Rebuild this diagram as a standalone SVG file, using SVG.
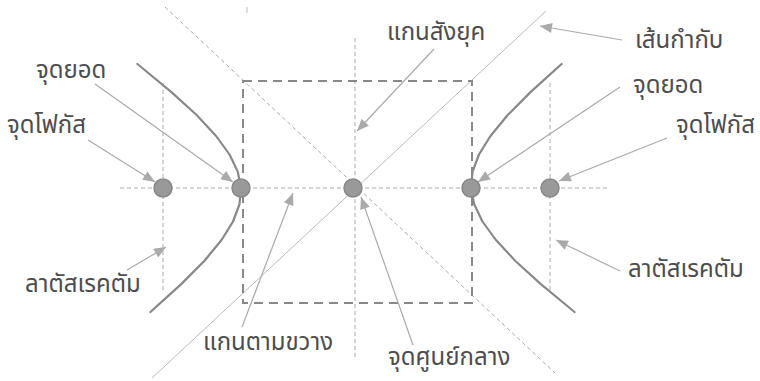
<svg xmlns="http://www.w3.org/2000/svg" width="760" height="381" viewBox="0 0 760 381">
<style>
text{font-family:"Noto Sans Thai","Noto Sans","DejaVu Sans",sans-serif;font-size:24px;fill:#4d4d4d}
.guide{stroke:#aaa;stroke-width:1;stroke-dasharray:4 3;fill:none}
.box{stroke:#888;stroke-width:2;stroke-dasharray:9 6;fill:none}
.asym{stroke:#bbb;stroke-width:1;fill:none}
.hyp{stroke:#888;stroke-width:2.2;fill:none;stroke-linejoin:round;stroke-linecap:round}
.pt{fill:#999;stroke:#888;stroke-width:1.5}
.arr{stroke:#aaa;stroke-width:1.2;fill:none;marker-end:url(#ah)}
</style>
<defs>
<marker id="ah" viewBox="0 0 12 10" refX="12" refY="5" markerWidth="13" markerHeight="10" markerUnits="userSpaceOnUse" orient="auto">
<path d="M0,0 L12,5 L0,10 Z" fill="#aaa"/>
</marker>
</defs>
<g id="guides">
<line class="guide" x1="120" y1="188" x2="610" y2="188"/>
<line class="guide" x1="355" y1="38" x2="355" y2="360"/>
<line class="guide" x1="163" y1="83" x2="163" y2="291"/>
<line class="guide" x1="550" y1="83" x2="550" y2="293"/>
<line class="guide" x1="165" y1="7" x2="555" y2="373"/>
<line x1="247" y1="7" x2="247" y2="13" stroke="#bbb" stroke-width="1"/>
<line class="asym" x1="152" y1="378" x2="546" y2="11"/>
<rect class="box" x="243" y="81" width="229" height="222"/>
</g>
<g id="hyperbola" transform="translate(356,188) skewX(3) translate(-356,-188)">
<path class="hyp" d="M143.9,64 L176.2,91.9 L200.7,115.3 L218.8,136 L231.3,154.5 L238.6,171.6 L241,188 L238.6,204.4 L231.3,221.5 L218.8,240 L200.7,260.7 L176.2,284.1 L143.9,312"/>
<path class="hyp" d="M568.1,64 L535.8,91.9 L511.3,115.3 L493.2,136 L480.7,154.5 L473.4,171.6 L471,188 L473.4,204.4 L480.7,221.5 L493.2,240 L511.3,260.7 L535.8,284.1 L568.1,312"/>
</g>
<g id="points">
<circle class="pt" cx="163" cy="188" r="9"/>
<circle class="pt" cx="241" cy="188" r="9"/>
<circle class="pt" cx="353" cy="188" r="9"/>
<circle class="pt" cx="471" cy="188" r="9"/>
<circle class="pt" cx="550" cy="188" r="9"/>
</g>
<g id="connectors">
<line class="arr" x1="95" y1="84" x2="233" y2="182"/>
<line class="arr" x1="88" y1="140" x2="155" y2="182"/>
<line class="arr" x1="434" y1="49" x2="357" y2="131"/>
<line class="arr" x1="622" y1="40" x2="540" y2="26"/>
<line class="arr" x1="620" y1="87" x2="478" y2="182"/>
<line class="arr" x1="667" y1="138" x2="559" y2="181"/>
<line class="arr" x1="127" y1="270" x2="166" y2="247"/>
<line class="arr" x1="620" y1="271" x2="556" y2="240"/>
<line class="arr" x1="242" y1="327" x2="293" y2="193"/>
<line class="arr" x1="413" y1="345" x2="361" y2="197"/>
</g>
<g id="labels">
<text x="36" y="78">จุดยอด</text>
<text x="7" y="133">จุดโฟกัส</text>
<text x="387" y="40">แกนสังยุค</text>
<text x="635" y="48">เส้นกำกับ</text>
<text x="633" y="93">จุดยอด</text>
<text x="676" y="133">จุดโฟกัส</text>
<text x="25" y="292">ลาตัสเรคตัม</text>
<text x="628" y="277">ลาตัสเรคตัม</text>
<text x="203" y="350">แกนตามขวาง</text>
<text x="388" y="365">จุดศูนย์กลาง</text>
</g>
</svg>
